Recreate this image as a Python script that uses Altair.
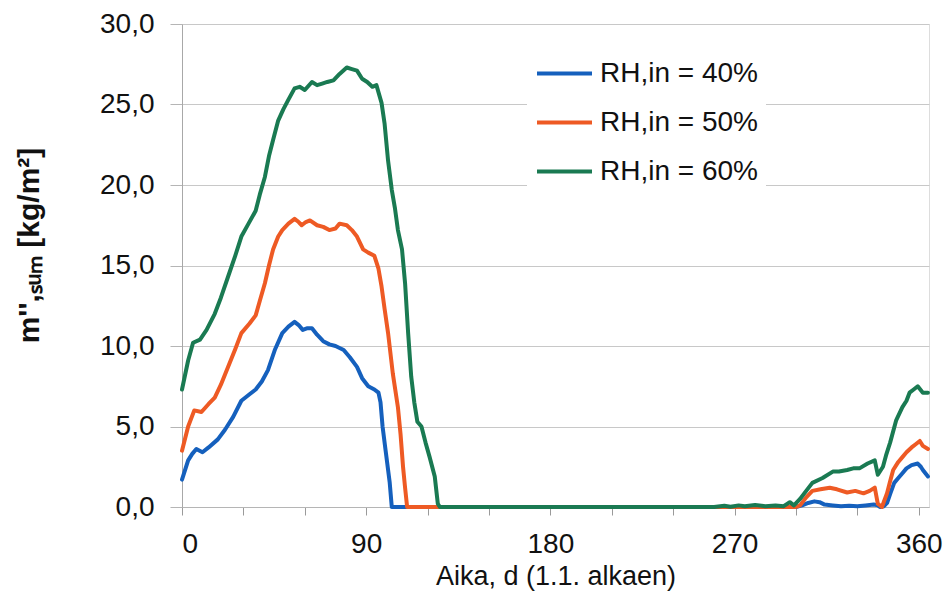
import altair as alt
import pandas as pd

series_names = ["RH,in = 40%", "RH,in = 50%", "RH,in = 60%"]
series_colors = ["#1560BD", "#EE5A24", "#1A7A52"]

days_40 = [0, 3, 5, 7, 10, 13, 17.5, 21, 25, 29, 33, 36, 39, 42, 45.5, 49, 52, 55, 57, 59, 61, 63.5,
           66, 69, 72, 75, 79, 82, 85.5, 88, 91, 94, 96, 97, 98, 99.5, 101.5, 102.5, 200, 300, 303,
           306, 309, 311.5, 314, 318, 322, 326, 330, 334, 338, 340, 341, 343, 344.5, 346, 348, 350,
           352, 354, 356.5, 359.5, 361, 362, 364.5]
vals_40 = [1.7, 2.9, 3.3, 3.6, 3.4, 3.7, 4.2, 4.8, 5.6, 6.6, 7.0, 7.3, 7.8, 8.5, 9.8, 10.8, 11.2, 11.5,
           11.3, 11.0, 11.1, 11.1, 10.7, 10.3, 10.1, 10.0, 9.75, 9.3, 8.7, 8.0, 7.5, 7.3, 7.1, 6.5, 5.0,
           3.5, 1.5, 0, 0, 0, 0.1, 0.25, 0.35, 0.3, 0.15, 0.1, 0.05, 0.08, 0.05, 0.1, 0.15, 0.1, 0.0,
           0.05, 0.25, 0.8, 1.5, 1.8, 2.1, 2.4, 2.6, 2.7, 2.5, 2.3, 1.9]

days_50 = [0, 3, 6, 9.5, 13, 16, 19, 22.5, 26, 29, 33, 36, 38, 40.5, 42.5, 44.5, 47, 49, 52, 55, 57,
           58.5, 60.5, 62.5, 66, 69, 72, 75, 77, 80.5, 83, 85.5, 88.5, 91, 94, 96, 97.5, 99, 100.7,
           103, 105.5, 106.8, 108, 109, 110, 300, 302, 305, 308, 312, 316.5, 320, 325, 329, 333, 336,
           338.5, 340, 342, 344.5, 346, 347.5, 350, 352, 354, 356.5, 358.5, 360.5, 362, 364.5]
vals_50 = [3.5, 5.0, 6.0, 5.9, 6.4, 6.8, 7.6, 8.7, 9.8, 10.8, 11.4, 11.9, 12.8, 13.9, 15.0, 16.0, 16.8,
           17.2, 17.6, 17.9, 17.7, 17.5, 17.7, 17.8, 17.5, 17.4, 17.2, 17.3, 17.6, 17.5, 17.2, 16.8,
           16.0, 15.8, 15.6, 14.8, 13.7, 12.3, 10.8, 8.3, 6.2, 4.5, 2.5, 1.2, 0, 0, 0.1, 0.6, 1.0, 1.1,
           1.2, 1.1, 0.9, 1.0, 0.85, 1.0, 1.2, 0.2, 0, 0.85, 1.6, 2.3, 2.8, 3.1, 3.4, 3.7, 3.9, 4.1,
           3.8, 3.6]

days_60 = [0, 3, 5.4, 8.8, 12, 16, 19, 22.5, 26, 29, 32.5, 36, 38, 40.5, 42.5, 44.5, 47, 49.5, 52, 55,
           57.5, 60, 63.5, 66, 68.5, 71, 74, 77, 80.5, 83, 85.5, 88, 90.5, 93, 95, 97.5, 99, 100.7,
           102.5, 104, 105.5, 107.5, 109, 110.5, 112, 113.5, 115, 117, 119, 121, 123.5, 125, 126, 220,
           260, 265, 268, 272, 275, 280, 285, 290, 294, 297, 299, 302, 305, 308, 313, 318, 321, 325,
           328, 331, 335, 338.5, 340, 342.5, 344, 346, 349, 352, 354, 355.5, 357.5, 359.5, 362, 364.5]
vals_60 = [7.3, 9.1, 10.2, 10.4, 11.0, 12.0, 13.0, 14.3, 15.6, 16.8, 17.6, 18.4, 19.4, 20.5, 21.8, 22.8,
           24.0, 24.7, 25.3, 26.0, 26.1, 25.9, 26.4, 26.2, 26.3, 26.4, 26.5, 26.9, 27.3, 27.2, 27.1,
           26.6, 26.4, 26.1, 26.2, 25.1, 23.8, 21.5, 19.7, 18.6, 17.2, 16.0, 13.9, 10.8, 8.1, 6.5, 5.3,
           5.0, 4.0, 3.1, 1.9, 0.2, 0, 0, 0, 0.08, 0.02, 0.1, 0.05, 0.12, 0.05, 0.1, 0.05, 0.3, 0.1,
           0.5, 1.0, 1.5, 1.8, 2.2, 2.2, 2.3, 2.4, 2.4, 2.7, 2.9, 2.0, 2.5, 3.2, 4.0, 5.4, 6.2, 6.6,
           7.1, 7.3, 7.5, 7.1, 7.1]

x_tick_values = list(range(0, 361, 30))
y_tick_values = [0, 5, 10, 15, 20, 25, 30]

rows = []
for name, days, vals in zip(series_names, [days_40, days_50, days_60], [vals_40, vals_50, vals_60]):
    for d, v in zip(days, vals):
        rows.append({"series": name, "day": d, "value": v})
df = pd.DataFrame(rows)

FONT = "Liberation Sans"

chart = alt.Chart(df).mark_line(strokeWidth=4, strokeJoin="round", strokeCap="round").encode(
    x=alt.X("day:Q",
            scale=alt.Scale(domain=[0, 365], nice=False, zero=False),
            axis=alt.Axis(values=x_tick_values,
                          labelExpr="datum.value % 90 == 0 ? datum.label : ''",
                          grid=False, tickSize=8, tickColor="#9a9a9a", domainColor="#b5b5b5",
                          labelFontSize=28, labelColor="#111111", labelPadding=15,
                          labelFont=FONT, title="Aika, d (1.1. alkaen)",
                          titleFont=FONT, titleFontSize=27, titleFontWeight="normal",
                          titleColor="#111111", titlePadding=5)),
    y=alt.Y("value:Q",
            scale=alt.Scale(domain=[0, 30], nice=False),
            axis=alt.Axis(values=y_tick_values,
                          labelExpr="replace(format(datum.value, '.1f'), '.', ',')",
                          grid=True, gridColor="#c8c8c8", gridWidth=1.2,
                          tickSize=12, tickColor="#b5b5b5", domainColor="#a8a8a8",
                          labelFontSize=28, labelColor="#111111", labelPadding=16,
                          labelFont=FONT, title="m'',ₛᵤₘ  [kg/m²]",
                          titleFont=FONT, titleFontSize=30, titleFontWeight="bold",
                          titleColor="#111111", titleX=-153, titleY=221,
                          titleAngle=270, titleAlign="center", titleBaseline="middle")),
    color=alt.Color("series:N", title=None,
                    scale=alt.Scale(domain=series_names, range=series_colors),
                    legend=alt.Legend(orient="none", legendX=345, legendY=12,
                                      symbolType="stroke", symbolSize=3025, symbolStrokeWidth=4,
                                      labelFontSize=28, labelFont=FONT, labelColor="#111111",
                                      labelOffset=6, rowPadding=5, fillColor="white",
                                      padding=8)),
).properties(
    width=747, height=483,
    autosize=alt.AutoSizeParams(type="none"),
    padding={"left": 182, "top": 24, "right": 19, "bottom": 91},
).configure_view(stroke=None).configure(background="white")

chart.save("out.html", embed_options={"renderer": "svg", "actions": False})
